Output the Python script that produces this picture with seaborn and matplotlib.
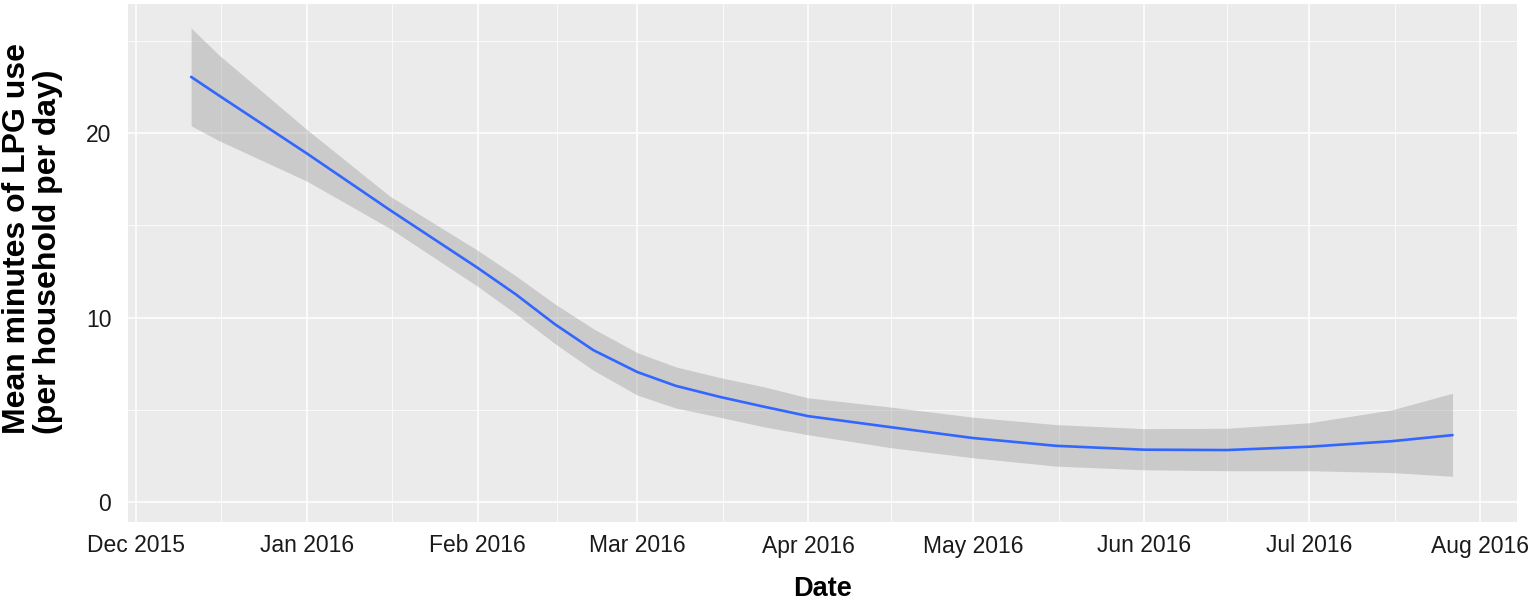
import matplotlib
matplotlib.use("Agg")
import matplotlib.pyplot as plt
from matplotlib import font_manager
import pandas as pd
import seaborn as sns


# smoothed LPG use (loess fit + 95% band)
dates = ["2015-12-11", "2015-12-16", "2016-01-01", "2016-01-16", "2016-02-01",
         "2016-02-08", "2016-02-15", "2016-02-22", "2016-03-01", "2016-03-08",
         "2016-03-16", "2016-03-24", "2016-04-01", "2016-04-16", "2016-05-01",
         "2016-05-16", "2016-06-01", "2016-06-16", "2016-07-01", "2016-07-16",
         "2016-07-27"]
fit = [23.05, 22.05, 18.9, 15.85, 12.7,
       11.25, 9.65, 8.24, 7.05, 6.3,
       5.7, 5.17, 4.66, 4.06, 3.47,
       3.05, 2.84, 2.82, 3.0, 3.3,
       3.63]
upper = [25.7, 24.25, 20.2, 16.6, 13.65,
         12.25, 10.75, 9.4, 8.1, 7.33,
         6.75, 6.25, 5.65, 5.15, 4.6,
         4.2, 3.98, 4.0, 4.3, 5.0,
         5.9]
lower = [20.4, 19.6, 17.4, 14.85, 11.7,
         10.2, 8.6, 7.15, 5.8, 5.1,
         4.6, 4.08, 3.65, 2.95, 2.4,
         1.95, 1.75, 1.7, 1.7, 1.6,
         1.4]

month_ticks = ["2015-12-01", "2016-01-01", "2016-02-01", "2016-03-01",
               "2016-04-01", "2016-05-01", "2016-06-01", "2016-07-01",
               "2016-08-01"]
month_labels = ["Dec 2015", "Jan 2016", "Feb 2016", "Mar 2016", "Apr 2016",
                "May 2016", "Jun 2016", "Jul 2016", "Aug 2016"]
y_major = [0, 10, 20]
y_minor = [5, 15, 25]

df = pd.DataFrame({"date": pd.to_datetime(dates), "fit": fit,
                   "upper": upper, "lower": lower})

sns.set_style("darkgrid", {"axes.facecolor": "#EBEBEB",
                           "grid.color": "white",
                           "axes.edgecolor": "none"})

# narrow font looks closer to the squeezed tick labels, if we have it
installed = {f.name for f in font_manager.fontManager.ttflist}
if "Liberation Sans Narrow" in installed:
    tick_font, tick_size = "Liberation Sans Narrow", 20
else:
    tick_font, tick_size = "Liberation Sans", 16.5

fig = plt.figure(figsize=(15.31, 6.03), dpi=100)
ax = fig.add_axes([128 / 1531, 1 - 522 / 603, (1517 - 128) / 1531, (522 - 4) / 603])

ax.fill_between(df["date"], df["lower"], df["upper"], color="#999999",
                alpha=0.4, linewidth=0, zorder=2)
sns.lineplot(data=df, x="date", y="fit", color="#3366FF", linewidth=1.9,
             ax=ax, zorder=3)

ax.set_xlim(pd.Timestamp("2015-11-29 13:00"), pd.Timestamp("2016-08-07 17:00"))
ax.set_ylim(-1.08, 27.0)

ticks = pd.to_datetime(month_ticks)
ax.set_xticks(ticks)
ax.set_xticklabels(month_labels)
mids = ticks[:-1] + (ticks[1:] - ticks[:-1]) / 2
ax.set_xticks(mids, minor=True)
ax.set_yticks(y_major)
ax.set_yticklabels([str(v) for v in y_major])
ax.set_yticks(y_minor, minor=True)

ax.grid(which="major", color="white", linewidth=1.1)
ax.grid(which="minor", color="white", linewidth=0.55)
ax.tick_params(which="minor", length=0)
ax.tick_params(which="major", length=4, width=1, color="#333333",
               labelcolor="#1a1a1a", labelsize=tick_size)
ax.tick_params(axis="x", pad=5)
ax.tick_params(axis="y", pad=8)
for lab in ax.get_xticklabels() + ax.get_yticklabels():
    lab.set_family(tick_font)

ax.set_xlabel("Date", fontsize=19.5, fontweight="bold",
              family="Liberation Sans", color="black")
ax.xaxis.set_label_coords(0.5, -0.104)
ax.set_ylabel("Mean minutes of LPG use\n(per household per day)", fontsize=23,
              fontweight="bold", family="Liberation Sans", color="black",
              multialignment="left", linespacing=1.05)
ax.yaxis.set_label_coords(-0.0465, 0.548)

plt.savefig("out.png", dpi=100)
